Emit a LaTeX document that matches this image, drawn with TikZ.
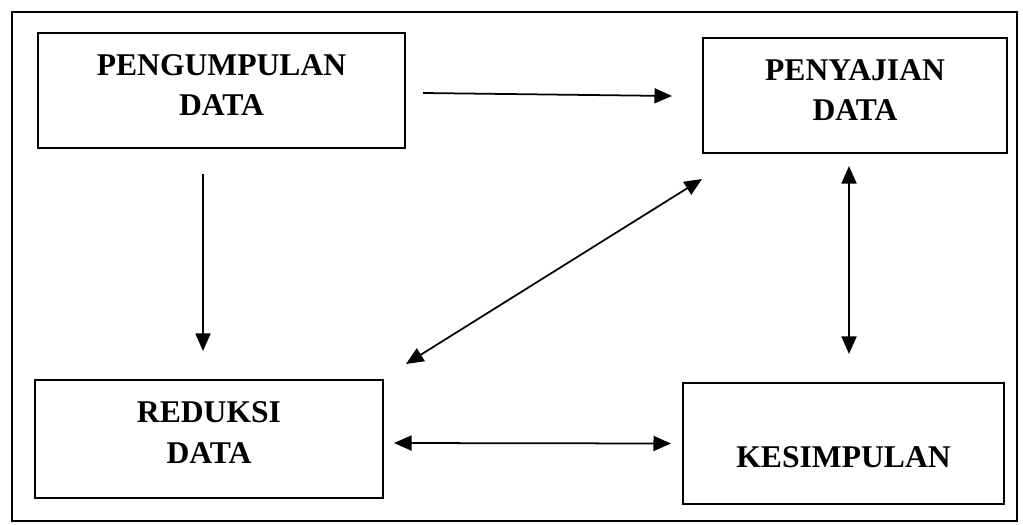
\documentclass[tikz,border=0pt]{standalone}
\usepackage{fontspec}
\setmainfont{Liberation Serif}
\usepackage{tikz}
\usetikzlibrary{arrows.meta, calc}

\tikzset{
  stagebox/.style={draw, line width=1.2pt, align=center, inner sep=0pt,
    font=\fontsize{18}{23}\selectfont\bfseries},
  flow/.style={-{Triangle[length=0.35cm, width=0.3cm]}, line width=1pt},
  flowboth/.style={{Triangle[length=0.35cm, width=0.3cm]}-{Triangle[length=0.35cm, width=0.3cm]}, line width=1pt}
}

\begin{document}
\begin{tikzpicture}[x=0.02cm, y=-0.02cm]
  \useasboundingbox (0,0) rectangle (1023,524);

  % Outer frame
  \draw[line width=1.1pt] (12,12) rectangle (1017,521);

  % Stage boxes
  \node[stagebox, minimum width=7.34cm, minimum height=2.30cm, text depth=6.2pt] (pengumpulan) at (221.5,90.5) {PENGUMPULAN\\DATA};
  \node[stagebox, minimum width=6.08cm, minimum height=2.30cm, text depth=6.2pt] (penyajian) at (855,95.5) {PENYAJIAN\\DATA};
  \node[stagebox, minimum width=6.96cm, minimum height=2.36cm, text depth=7.4pt] (reduksi) at (209,439) {REDUKSI\\DATA};
  \node[stagebox, minimum width=6.42cm, minimum height=2.42cm, text height=27.5pt, text depth=0pt] (kesimpulan) at (843.5,443.5) {KESIMPULAN};

  % Arrows
  \draw[flow] ($(pengumpulan.east)+(17,2.5)$) -- ($(penyajian.west)+(-30,0.5)$);
  \draw[flow] ($(pengumpulan.south)+(-18.5,25)$) -- ($(reduksi.north)+(-6,-28)$);
  \draw[flowboth] ($(reduksi.north east)+(22,-15)$) -- ($(penyajian.south west)+(0,25)$);
  \draw[flowboth] ($(penyajian.south)+(-6,12)$) -- ($(kesimpulan.north)+(5.5,-28)$);
  \draw[flowboth] ($(reduksi.east)+(10,4)$) -- ($(kesimpulan.west)+(-11,0)$);
\end{tikzpicture}
\end{document}
